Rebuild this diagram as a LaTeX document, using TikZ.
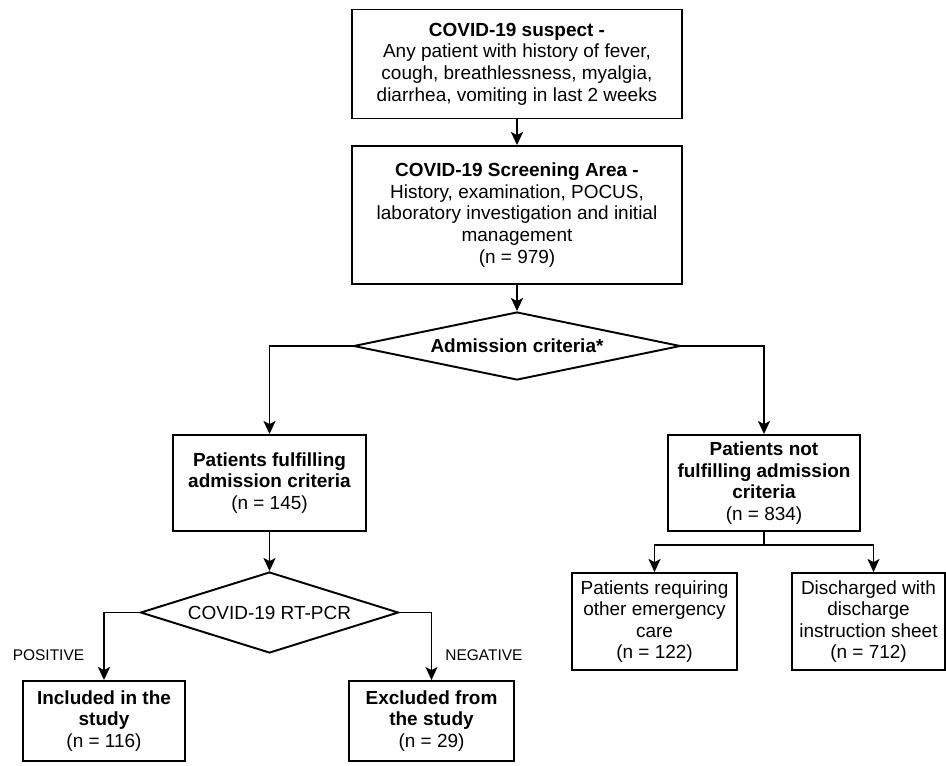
\documentclass[tikz,border=0pt]{standalone}
\usepackage{fontspec}
\setmainfont{Liberation Sans}
\usetikzlibrary{shapes.geometric,arrows.meta}
\begin{document}
\begin{tikzpicture}[x=0.02cm,y=-0.02cm,
  txt/.style={font=\fontsize{10.8}{12.3}\selectfont},
  box/.style={txt, draw, line width=1.1pt, align=center, inner sep=0pt},
  dia/.style={txt, draw, diamond, line width=1.1pt, inner sep=0pt, align=center},
  arr/.style={-{Stealth[length=0.26cm,width=0.24cm,inset=0.06cm]}, line width=1.1pt},
  ln/.style={line width=1.1pt},
  lbl/.style={font=\fontsize{8.8}{10}\selectfont}]
\useasboundingbox[fill=white] (0,0) rectangle (946,765);

\node[box, minimum width=6.6cm, minimum height=2.18cm] (b1) at (517,64)
  {\textbf{COVID-19 suspect -}\\Any patient with history of fever,\\cough, breathlessness, myalgia,\\diarrhea, vomiting in last 2 weeks};
\node[box, minimum width=6.6cm, minimum height=2.76cm] (b2) at (517,215)
  {\textbf{COVID-19 Screening Area -}\\History, examination, POCUS,\\laboratory investigation and initial\\management\\(n = 979)};
\node[dia, minimum width=6.54cm, minimum height=1.36cm, shape aspect=4.8] (d1) at (517,346)
  {\textbf{Admission criteria*}};
\node[box, minimum width=3.86cm, minimum height=1.92cm] (L) at (269.5,483)
  {\textbf{Patients fulfilling}\\\textbf{admission criteria}\\(n = 145)};
\node[box, minimum width=3.84cm, minimum height=1.92cm] (R) at (764,483)
  {\textbf{Patients not}\\\textbf{fulfilling admission}\\\textbf{criteria}\\(n = 834)};
\node[dia, minimum width=5.16cm, minimum height=1.62cm, shape aspect=3.2] (d2) at (269.5,612.5)
  {COVID-19 RT-PCR};
\node[box, minimum width=3.24cm, minimum height=1.6cm] (BL) at (104,721)
  {\textbf{Included in the}\\\textbf{study}\\(n = 116)};
\node[box, minimum width=3.3cm, minimum height=1.6cm] (BM) at (431.5,721)
  {\textbf{Excluded from}\\\textbf{the study}\\(n = 29)};
\node[box, minimum width=3.3cm, minimum height=1.94cm] (R1) at (654.5,621.5)
  {Patients requiring\\other emergency\\care\\(n = 122)};
\node[box, minimum width=3.06cm, minimum height=1.94cm] (R2) at (868.5,621.5)
  {Discharged with\\discharge\\instruction sheet\\(n = 712)};

\node[lbl] (pos) at (48.5,655) {POSITIVE};
\node[lbl] (neg) at (484,655) {NEGATIVE};

\coordinate (split) at (764,545);

\draw[arr] (b1.south) -- (b2.north);
\draw[arr] (b2.south) -- (d1.north);
\draw[arr] (d1.west) -| (L.north);
\draw[arr] (d1.east) -| (R.north);
\draw[arr] (L.south) -- (d2.north);
\draw[arr] (d2.west) -| (BL.north);
\draw[arr] (d2.east) -| (BM.north);
\draw[ln] (R.south) -- (split);
\draw[arr] (split) -| (R1.north);
\draw[arr] (split) -| ([xshift=0.1cm]R2.north);
\end{tikzpicture}
\end{document}
